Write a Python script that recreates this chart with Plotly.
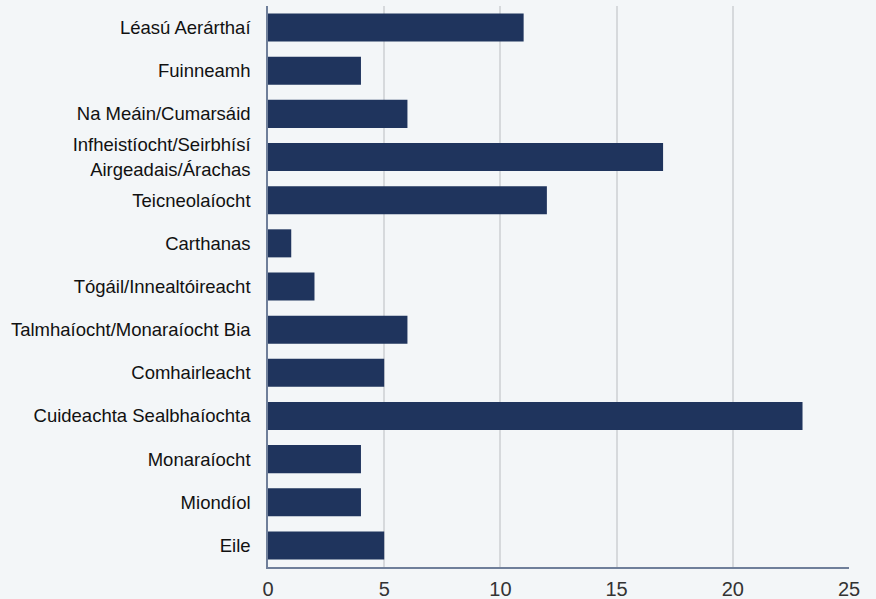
import plotly.graph_objects as go

categories = [
    "Léasú Aerárthaí",
    "Fuinneamh",
    "Na Meáin/Cumarsáid",
    "Infheistíocht/Seirbhísí<br>Airgeadais/Árachas",
    "Teicneolaíocht",
    "Carthanas",
    "Tógáil/Innealtóireacht",
    "Talmhaíocht/Monaraíocht Bia",
    "Comhairleacht",
    "Cuideachta Sealbhaíochta",
    "Monaraíocht",
    "Miondíol",
    "Eile",
]
values = [11, 4, 6, 17, 12, 1, 2, 6, 5, 23, 4, 4, 5]
x_ticks = [0, 5, 10, 15, 20, 25]

fig = go.Figure()
fig.add_trace(
    go.Bar(
        x=values,
        y=categories,
        orientation="h",
        marker={"color": "#1f345d", "line": {"width": 0}},
        hoverinfo="x+y",
    )
)

fig.update_layout(
    width=876,
    height=599,
    margin={"l": 268, "r": 27, "t": 6, "b": 32},
    paper_bgcolor="#f3f6f8",
    plot_bgcolor="#f3f6f8",
    bargap=0.35,
    showlegend=False,
    font={"family": "Liberation Sans, Arial, sans-serif", "color": "#111111"},
)
fig.update_xaxes(
    range=[0, 25],
    tickvals=x_ticks,
    showgrid=True,
    gridcolor="#d6d9dc",
    gridwidth=1.5,
    showline=True,
    linecolor="#6f7f9a",
    linewidth=1.5,
    zeroline=False,
    tickfont={"size": 20, "color": "#333333"},
    ticks="",
    ticklabelstandoff=3,
    automargin=False,
)
fig.update_yaxes(
    autorange="reversed",
    showline=True,
    linecolor="#6f7f9a",
    linewidth=1.5,
    showgrid=False,
    tickfont={"size": 18.5, "color": "#111111"},
    ticks="",
    ticklabelstandoff=12,
    automargin=False,
)

# drop the browser's default body margin so the figure sits at the window corner
fig.write_html(
    "out.html",
    config={"displayModeBar": False},
    post_script="document.body.style.margin='0';",
)
